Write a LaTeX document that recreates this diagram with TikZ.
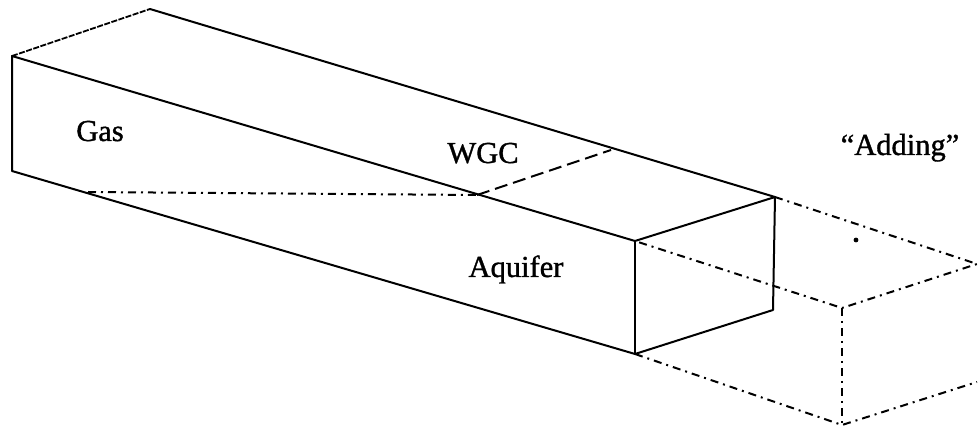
\documentclass[tikz,border=0pt]{standalone}
\usepackage{fontspec}
\setmainfont[RawFeature={embolden=1.2}]{Liberation Serif}
\tikzset{
  solidedge/.style={draw=black,line width=2pt,line cap=round,line join=round},
  dashdot/.style={draw=black,line width=2pt,dash pattern=on 8pt off 5pt on 2pt off 5pt},
  longdash/.style={draw=black,line width=2pt,dash pattern=on 13pt off 6pt},
  shortdash/.style={draw=black,line width=1.8pt,dash pattern=on 6pt off 1.5pt},
  lbl/.style={font=\fontsize{30.5}{34}\selectfont,inner sep=0pt,text=black,anchor=base}
}
\begin{document}
\begin{tikzpicture}[x=1pt,y=-1pt]
\useasboundingbox (0,0) rectangle (978,430);
\fill[white] (0,0) rectangle (978,430);
\coordinate (ftl) at (12,56);
\coordinate (btl) at (150,9);
\coordinate (fbl) at (12,171);
\coordinate (ftr) at (635,241);
\coordinate (fbr) at (635,354);
\coordinate (btr) at (775,197);
\coordinate (bbr) at (773,310);
\coordinate (wf) at (477,195);
\coordinate (wb) at (611,150);
\coordinate (ml) at (88,192);
\coordinate (xtb) at (977,264);
\coordinate (xtf) at (842,308);
\coordinate (xbf) at (842,425);
\coordinate (xbb) at (977,382);
% solid box
\draw[solidedge] (btl) -- (btr) -- (ftr) -- (ftl) -- (fbl) -- (fbr) -- (bbr) -- (btr);
\draw[solidedge] (ftr) -- (fbr);
\draw[shortdash] (ftl) -- (btl);
% water-gas contact
\draw[longdash] (wf) -- (wb);
\draw[dashdot] (ml) -- (wf);
% added block
\draw[dashdot] (btr) -- (xtb) -- (xtf) -- (ftr);
\draw[dashdot] (xtf) -- (xbf);
\draw[dashdot] (fbr) -- (xbf) -- (xbb);
\fill (856,240) circle (2.4pt);
% labels
\node[lbl] (gas) at (100,141) {Gas};
\node[lbl] (wgc) at (483,163) {WGC};
\node[lbl] (aq) at (516,277) {Aquifer};
\node[lbl] (add) at (900,155) {“Adding”};
\end{tikzpicture}
\end{document}
